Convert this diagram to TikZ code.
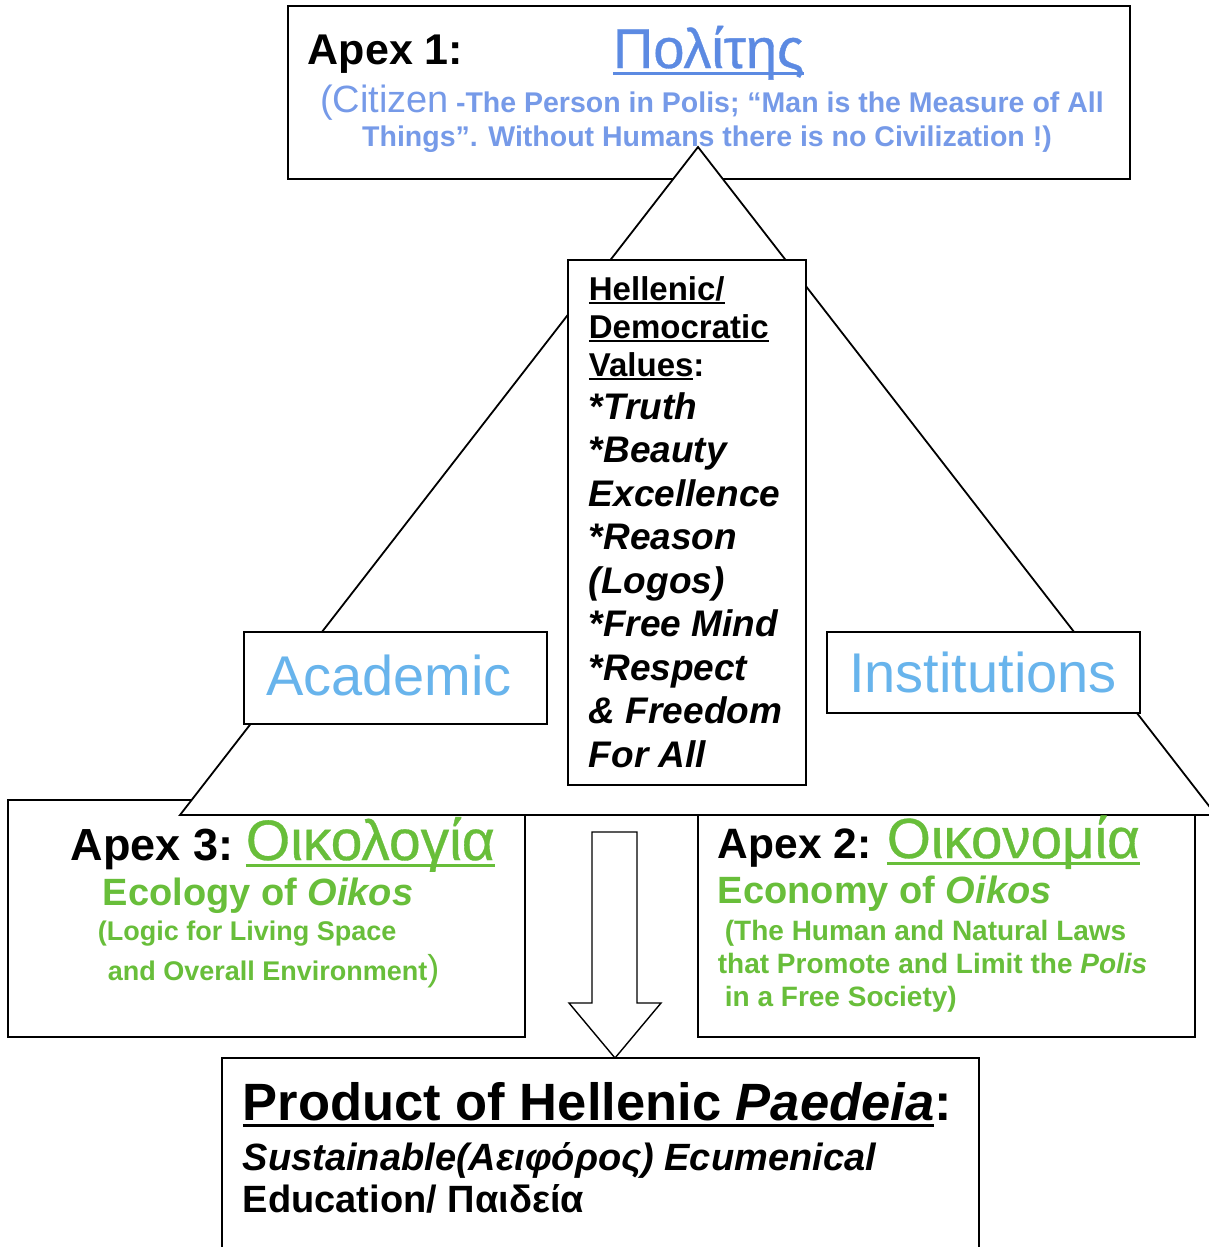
\documentclass[tikz,border=0pt]{standalone}
\usepackage{fontspec}
\setmainfont{Liberation Sans}
\newfontfamily\greekmed[FakeBold=0.6]{Liberation Sans}
\usepackage{tikz}

\definecolor{polisblue}{RGB}{92,138,226}
\definecolor{citizenblue}{RGB}{118,154,232}
\definecolor{skyblue}{RGB}{104,180,236}
\definecolor{oikosgreen}{RGB}{104,190,58}

\newcommand{\fsz}[1]{\fontsize{#1pt}{#1pt}\selectfont}
\newcommand{\thickul}[1]{\setbox0\hbox{#1}\rlap{\raisebox{-0.13em}{\rule{\wd0}{0.06em}}}\box0}

\begin{document}
\begin{tikzpicture}[x=1pt,y=-1pt,line width=1.8pt,
    box/.style={draw,fill=white},
    txt/.style={inner sep=0pt,anchor=base west}]
  \useasboundingbox (0,0) rectangle (1208,1247);

  % frames and the big triangle
  \draw (288,6) rectangle (1130,179);
  \draw[box] (8,800) rectangle (525,1037);
  \draw[box] (698,147) -- (180,815) -- (1216,815) -- cycle;
  \draw[box] (698,815) rectangle (1195,1037);
  \draw[box] (568,260) rectangle (806,785);
  \draw[box] (244,632) rectangle (547,724);
  \draw[box] (827,632) rectangle (1140,713);
  \draw[box,line width=1.4pt] (592,832) -- (637,832) -- (637,1003) -- (661,1003)
    -- (615,1058) -- (569,1003) -- (592,1003) -- cycle;
  \draw[box] (222,1058) rectangle (979,1262);

  % apex 1
  \node[txt] (apexone) at (307,65) {\fsz{43}\bfseries Apex 1:};
  \node[txt,text=polisblue] (polites) at (612,68) {\fsz{56}\greekmed\thickul{Πολίτης}};
  \node[inner sep=0pt,anchor=base,text=citizenblue] (citizen) at (712,112)
    {{\fsz{38}(Citizen}\hspace{7pt}{\fsz{28.5}\bfseries -The Person in Polis; “Man is the Measure of All}};
  \node[inner sep=0pt,anchor=base,text=citizenblue] (things) at (707,146)
    {\fsz{28.5}\bfseries Things”. Without Humans there is no Civilization !)};

  % values
  \node[txt] (hellenic) at (588,300) {\fsz{33}\bfseries\thickul{Hellenic/}};
  \node[txt] (democratic) at (588,338) {\fsz{33}\bfseries\thickul{Democratic}};
  \node[txt] (values) at (588,376) {\fsz{33}\bfseries\thickul{Values}:};
  \foreach \val [count=\i from 0] in {*Truth,*Beauty,Excellence,*Reason,(Logos),*Free Mind,*Respect,\&~Freedom,For All}
    \node[txt] (value\i) at (588,{419+43.5*\i}) {\fsz{37}\bfseries\itshape \val};

  \node[inner sep=0pt,anchor=base,text=skyblue] (academic) at (389,695) {\fsz{56}Academic};
  \node[inner sep=0pt,anchor=base,text=skyblue] (institutions) at (983,692) {\fsz{56}Institutions};

  % apex 3
  \node[txt] (apexthree) at (70,860) {\fsz{45}\bfseries Apex 3:};
  \node[txt,text=oikosgreen] (oikologia) at (245,860) {\fsz{57}\greekmed\thickul{Οικολογία}};
  \node[txt,text=oikosgreen] (ecology) at (102,905) {\fsz{38}\bfseries Ecology of \textit{Oikos}};
  \node[txt,text=oikosgreen] (logic) at (97,940) {\fsz{27}\bfseries (Logic for Living Space};
  \node[txt,text=oikosgreen] (overall) at (107,980)
    {\fsz{27}\bfseries and Overall Environment{\mdseries\fsz{36})}};

  % apex 2
  \node[txt] (apextwo) at (717,858) {\fsz{42.5}\bfseries Apex 2:};
  \node[txt,text=oikosgreen] (oikonomia) at (886,858) {\fsz{56.5}\greekmed\thickul{Οικονομία}};
  \node[txt,text=oikosgreen] (economy) at (717,903) {\fsz{38}\bfseries Economy of \textit{Oikos}};
  \node[txt,text=oikosgreen] (laws) at (724,940) {\fsz{28}\bfseries (The Human and Natural Laws};
  \node[txt,text=oikosgreen] (promote) at (717,973) {\fsz{28}\bfseries that Promote and Limit the \textit{Polis}};
  \node[txt,text=oikosgreen] (society) at (724,1006) {\fsz{28}\bfseries in a Free Society)};

  % product
  \node[txt] (product) at (242,1120) {\fsz{52.5}\bfseries\thickul{Product of Hellenic \textit{Paedeia}}:};
  \node[txt] (sustain) at (242,1170) {\fsz{38}\bfseries\itshape Sustainable(Αειφόρος) Ecumenical};
  \node[txt] (education) at (242,1212) {\fsz{38}\bfseries Education/ Παιδεία};
\end{tikzpicture}
\end{document}
